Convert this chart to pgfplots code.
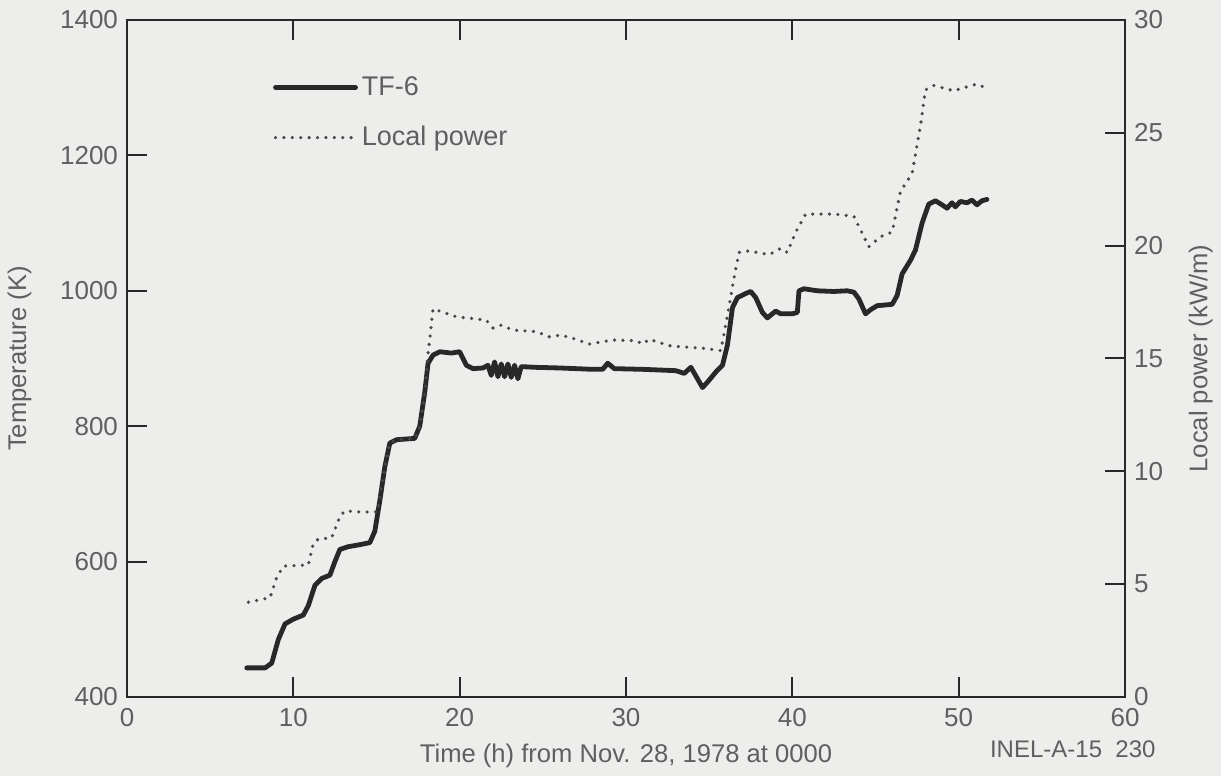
\documentclass[border=0pt]{standalone}
\usepackage{pgfplots}
\pgfplotsset{compat=1.18}
\usepackage{pgfplotstable}
\usepackage{fontspec}
\setmainfont{Liberation Sans}

\definecolor{paper}{RGB}{237,237,235}
\definecolor{ink}{RGB}{40,40,40}
\definecolor{txt}{RGB}{95,95,95}

% Thermocouple TF-6 temperature (K) versus time (h)
\pgfplotstableread{
t T
7.2 443
8.3 443
8.7 450
9.1 485
9.5 508
10.0 515
10.6 521
10.9 535
11.3 565
11.7 575
12.2 580
12.5 600
12.8 618
13.3 622
14.0 625
14.6 628
14.9 645
15.2 690
15.5 740
15.8 775
16.2 780
17.3 782
17.6 800
17.9 850
18.1 893
18.4 905
18.8 910
19.5 908
20.0 910
20.4 890
20.8 885
21.4 886
21.7 890
21.9 875
22.1 895
22.3 873
22.5 892
22.7 873
22.9 892
23.1 872
23.3 890
23.5 870
23.7 888
24.5 887
26.0 886
28.0 884
28.6 884
28.9 893
29.3 885
31.0 884
33.0 882
33.5 878
33.9 887
34.3 870
34.6 857
35.0 868
35.4 880
35.8 890
36.1 920
36.4 975
36.7 990
37.2 996
37.5 999
37.8 990
38.2 968
38.5 960
39.0 970
39.3 966
40.0 966
40.3 968
40.4 1000
40.7 1003
41.5 1000
42.5 999
43.3 1000
43.7 998
44.0 988
44.4 966
44.7 972
45.1 978
46.0 980
46.3 993
46.6 1025
47.1 1045
47.4 1060
47.8 1100
48.2 1128
48.6 1133
49.0 1127
49.3 1122
49.6 1130
49.8 1124
50.1 1132
50.5 1130
50.8 1134
51.1 1127
51.4 1133
51.7 1135
}\tfsix

% Local power (kW/m) versus time (h)
\pgfplotstableread{
t P
7.3 4.2
8.6 4.4
9.0 5.3
9.4 5.8
10.9 5.85
11.2 6.8
11.5 7.0
12.3 7.05
12.8 8.0
13.1 8.25
14.0 8.2
15.05 8.2
15.5 10.2
15.8 11.25
16.2 11.4
17.3 11.46
17.6 12.0
17.9 13.5
18.1 15.2
18.4 17.2
18.8 17.1
19.8 16.85
21.0 16.75
21.6 16.7
22.0 16.35
22.5 16.48
23.2 16.26
24.6 16.19
25.4 15.96
26.1 16.04
27.0 15.85
27.8 15.64
29.2 15.82
30.6 15.79
31.0 15.64
31.4 15.85
32.7 15.55
34.7 15.45
35.7 15.35
36.1 16.9
36.5 18.6
36.8 19.7
37.4 19.77
38.6 19.6
39.3 19.88
39.7 19.7
40.2 20.6
40.8 21.4
42.5 21.4
43.7 21.3
44.1 20.7
44.6 19.95
45.3 20.4
46.0 20.6
46.5 22.4
47.2 23.2
47.7 25.3
48.0 26.9
48.5 27.1
49.7 26.86
50.5 27.04
51.1 27.16
51.7 26.97
}\power

\pgfplotsset{
  common/.style={
    scale only axis, width=499pt, height=338.5pt,
    xmin=0, xmax=60,
    tick align=inside, major tick length=10pt,
    axis line style={ink, line width=1pt},
    every tick/.style={ink, line width=1pt},
    tick label style={txt, font=\fontsize{13}{15}\selectfont},
    label style={txt, font=\fontsize{12.8}{15}\selectfont},
    /pgf/number format/assume math mode=true,
    /pgf/number format/1000 sep={},
  },
  tfstyle/.style={ink, line width=2.4pt, line join=round, line cap=round},
  pwstyle/.style={ink!85, line width=1.8pt, line cap=round, dash pattern=on 0pt off 4.2pt},
}

\begin{document}
\begin{tikzpicture}
\fill[paper] (-63.5pt,-39.5pt) rectangle (547pt,348.5pt);
\begin{axis}[common,
  ymin=400, ymax=1400,
  xtick={0,10,...,60}, xticklabel pos=lower,
  ytick={400,600,...,1400}, ytick pos=left,
  xticklabel style={yshift=-2pt},
  yticklabel style={xshift=-1pt},
  xlabel={Time (h) from Nov. 28, 1978 at 0000},
  ylabel={Temperature (K)},
  xlabel style={yshift=-2pt},
  ylabel style={yshift=7.5pt},
]
\addplot[tfstyle] table[x=t, y=T] {\tfsix};
\end{axis}
\begin{axis}[common,
  ymin=0, ymax=30,
  axis x line=none, axis y line*=right,
  ytick={0,5,...,30},
  yticklabel style={xshift=1pt},
  ylabel={Local power (kW/m)},
  ylabel style={yshift=-6pt},
  legend style={at={(rel axis cs:0.14,0.929)}, anchor=north west,
    draw=none, fill=none, font=\fontsize{13.5}{16}\selectfont, text=txt,
    row sep=10pt},
  legend cell align=left,
  legend image code/.code={\draw[#1] (0pt,0pt) -- (40pt,0pt);},
]
\addlegendimage{tfstyle}
\addlegendentry{TF-6}
\addplot[pwstyle] table[x=t, y=P] {\power};
\addlegendentry{Local power}
\end{axis}
\node[txt, font=\fontsize{12}{14}\selectfont, anchor=base west] at (428pt,-30.5pt) {INEL-A-15\ \ 230};
\pgfresetboundingbox
\useasboundingbox (-63.5pt,-39.5pt) rectangle (547pt,348.5pt);
\end{tikzpicture}
\end{document}
